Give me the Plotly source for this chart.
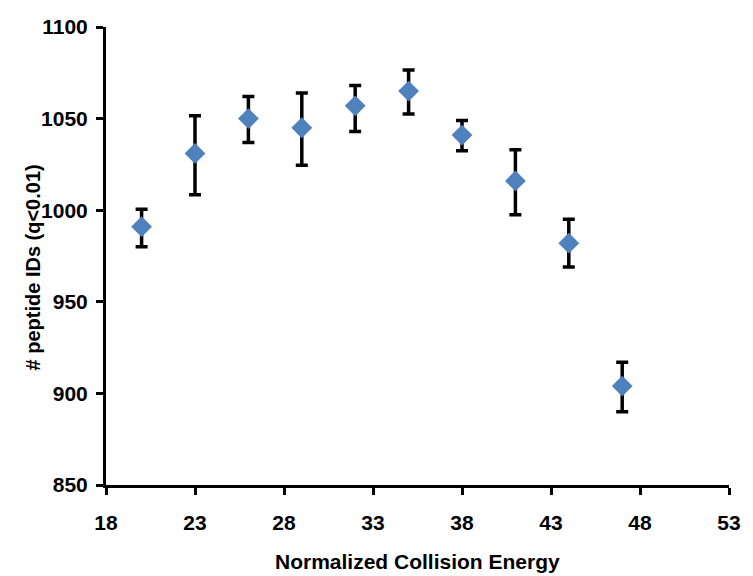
import plotly.graph_objects as go

energy = [20, 23, 26, 29, 32, 35, 38, 41, 44, 47]
peptide_ids = [991, 1031, 1050, 1045, 1057, 1065, 1041, 1016, 982, 904]
err_plus = [9.5, 20.5, 12, 19, 11, 11.5, 8, 17, 13, 13]
err_minus = [11, 22.5, 13, 20.5, 14, 12.5, 8.5, 18.5, 13, 14]

x_ticks = [18, 23, 28, 33, 38, 43, 48, 53]
y_ticks = [850, 900, 950, 1000, 1050, 1100]

FONT = "Liberation Sans, Arial, sans-serif"

fig = go.Figure()
fig.add_trace(go.Scatter(
    x=energy, y=peptide_ids, mode="markers",
    marker=dict(symbol="diamond", size=16, color="#4F81BD", line=dict(width=0)),
    error_y=dict(type="data", symmetric=False, array=err_plus, arrayminus=err_minus,
                 color="black", thickness=3.5, width=6),
    showlegend=False,
))

axis_common = dict(
    showline=True, linecolor="black", linewidth=3,
    ticks="outside", tickcolor="black", tickwidth=3, ticklen=7,
    showgrid=False, zeroline=False,
    tickfont=dict(family=FONT, size=21, color="black", weight="bold"),
)

fig.update_xaxes(
    range=[18, 53], tickvals=x_ticks, ticktext=[str(v) for v in x_ticks],
    ticklabelstandoff=10,
    **axis_common,
)
fig.update_yaxes(
    range=[850, 1100], tickvals=y_ticks, ticktext=[str(v) for v in y_ticks],
    ticklabelstandoff=4,
    **axis_common,
)

plot_w = 753 - 106 - 20
plot_h = 576 - 27 - 91
fig.add_annotation(
    text="<b>Normalized Collision Energy</b>", showarrow=False,
    xref="paper", yref="paper", x=0.5, y=-(561 - 485) / plot_h,
    xanchor="center", yanchor="middle",
    font=dict(family=FONT, size=21, color="black"),
)
fig.add_annotation(
    text="<b># peptide IDs (q<0.01)</b>", showarrow=False, textangle=-90,
    xref="paper", yref="paper", x=(33 - 106) / plot_w, y=(485 - 267) / plot_h,
    xanchor="center", yanchor="middle",
    font=dict(family=FONT, size=20, color="black"),
)

fig.update_layout(
    width=753, height=576,
    margin=dict(l=106, r=20, t=27, b=91),
    plot_bgcolor="white", paper_bgcolor="white",
)

fig.write_html("out.html")
